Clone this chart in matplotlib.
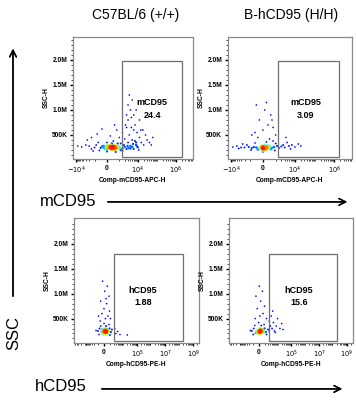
import numpy as np
import matplotlib
matplotlib.use("Agg")
from matplotlib import pyplot as plt
from matplotlib.patches import Rectangle

plt.rcParams['font.family'] = ['Liberation Sans', 'DejaVu Sans']

# column titles
titles = ["C57BL/6 (+/+)", "B-hCD95 (H/H)"]

# gate labels and percentages
gate_names = ["mCD95", "mCD95", "hCD95", "hCD95"]
gate_values = ["24.4", "3.09", "1.88", "15.6"]
x_labels = ["Comp-mCD95-APC-H", "Comp-mCD95-APC-H", "Comp-hCD95-PE-H", "Comp-hCD95-PE-H"]

# events: (fluorescence, SSC in K)
tl_events = [
    (0, 250), (200, 240), (400, 260), (-200, 250), (600, 250), (100, 270), (300, 230), (-100, 230),
    (500, 280), (800, 240), (0, 210), (200, 290), (-300, 270), (700, 270), (400, 220), (100, 250),
    (300, 250), (-400, 240), (900, 260), (600, 220), (0, 280), (200, 260), (500, 240), (-200, 280),
    (1000, 250), (-1000, 250), (-800, 300), (-1500, 220), (1500, 230), (1800, 300), (1200, 330),
    (-600, 350), (0, 350), (400, 380), (800, 330), (-1200, 180), (1500, 180), (0, 170), (600, 160),
    (-500, 190), (2000, 260), (2500, 220), (-2000, 280), (1200, 200), (300, 330), (-3000, 300),
    (-5000, 260), (-8000, 280), (-2500, 400), (-1500, 450), (-700, 520), (200, 480), (700, 600),
    (1000, 450), (500, 700), (-300, 620), (1500, 550), (2000, 420), (2500, 650), (3000, 350),
    (3500, 500), (4000, 280), (5000, 400), (6000, 600), (8000, 350), (3000, 800), (4000, 1000),
    (5000, 1200), (3500, 1300), (2500, 900), (4000, 230), (5000, 260), (6000, 220), (8000, 300),
    (10000, 250), (12000, 450), (15000, 350), (20000, 300), (25000, 500), (30000, 400), (7000, 700),
    (9000, 550), (12000, 800), (6000, 900), (18000, 600), (4500, 650), (2800, 280), (3200, 240),
    (5500, 320), (7000, 380), (9000, 270), (11000, 200), (14000, 600), (40000, 350), (50000, 300),
    (60000, 450), (3000, 1100), (4500, 850), (8000, 1000), (2200, 700),
]
tr_events = [
    (0, 240), (200, 250), (-200, 230), (400, 260), (-400, 250), (100, 220), (300, 280), (-100, 270),
    (600, 240), (-600, 260), (0, 260), (200, 230), (500, 220), (-300, 210), (100, 290), (800, 260),
    (-800, 240), (300, 250), (0, 200), (-100, 250), (-1200, 260), (-1500, 300), (1200, 280),
    (1500, 240), (1000, 330), (-500, 340), (200, 360), (700, 380), (-900, 200), (900, 190), (0, 170),
    (-2000, 250), (2000, 270), (400, 420), (-300, 450), (-500, 550), (0, 600), (300, 700),
    (-200, 800), (500, 900), (100, 1000), (-400, 1100), (700, 650), (1000, 500), (-800, 500),
    (200, 1150), (600, 800), (-3000, 250), (-5000, 280), (-8000, 260), (-2500, 320), (-4000, 230),
    (2500, 300), (3000, 250), (4000, 350), (5000, 280), (7000, 300), (10000, 260), (15000, 320),
    (20000, 280), (3500, 450), (6000, 220),
]
bl_events = [
    (0, 230), (200, 240), (400, 220), (-200, 250), (300, 260), (100, 210), (500, 250), (0, 270),
    (200, 200), (-100, 220), (400, 280), (600, 230), (100, 250), (300, 240), (-300, 230), (700, 260),
    (200, 290), (0, 190), (500, 200), (-200, 280), (-700, 300), (-1000, 250), (900, 300), (1200, 230),
    (-500, 350), (300, 350), (800, 380), (0, 400), (-800, 180), (1000, 170), (1500, 280),
    (-1500, 260), (-600, 450), (200, 500), (600, 550), (-300, 600), (900, 650), (0, 700), (400, 800),
    (-500, 850), (800, 950), (100, 1050), (500, 1150), (-200, 1250), (300, 900), (1100, 500),
    (-900, 550), (3000, 200), (4000, 240), (6000, 180), (2500, 300), (20000, 170),
]
br_events = [
    (0, 230), (200, 240), (400, 220), (-200, 250), (300, 260), (100, 210), (500, 250), (0, 270),
    (200, 200), (-100, 220), (400, 280), (600, 230), (-300, 230), (700, 260), (200, 290), (-400, 210),
    (800, 240), (-800, 300), (-1200, 250), (1000, 300), (1300, 230), (-600, 360), (400, 360),
    (900, 380), (0, 420), (-900, 180), (1500, 180), (2000, 280), (-1600, 260), (-500, 500),
    (200, 550), (700, 600), (-200, 700), (1000, 750), (300, 850), (-400, 950), (600, 1050),
    (100, 1150), (1500, 500), (2500, 250), (3000, 350), (4000, 300), (5000, 420), (6000, 250),
    (8000, 350), (10000, 500), (15000, 300), (20000, 400), (3500, 550), (2500, 450), (7000, 220),
    (25000, 280), (4500, 650),
]

# gate bounds: (x_low, x_high, ssc_low K, ssc_high K)
gates = [(1400, 2.0e6, 50, 1980), (1300, 1.7e6, 50, 1980),
         (2200, 1.9e8, 50, 1800), (2200, 1.9e8, 50, 1800)]

fig = plt.figure(figsize=(3.56, 4.03), dpi=100)

boxes = [[0.205, 0.6055, 0.337, 0.3027], [0.640, 0.6055, 0.348, 0.3027],
         [0.208, 0.149, 0.351, 0.310], [0.643, 0.149, 0.348, 0.310]]
label_x = [0.66, 0.63, 0.55, 0.565]

for i, events in enumerate([tl_events, tr_events, bl_events, br_events]):
    ax = fig.add_axes(boxes[i])
    top = i < 2
    c = 472.0 if top else 877.0
    ax.set_xscale('function', functions=(lambda v, c=c: np.arcsinh(v / c),
                                         lambda v, c=c: c * np.sinh(v)))
    if top:
        ax.set_xlim(-1.43e4, 7.7e6)
        ax.set_ylim(20e3, 2.46e6)
        ax.set_xticks([-1e4, 0, 1e4, 1e6], [r'$-10^4$', '0', r'$10^4$', r'$10^6$'])
        minor = ([-k * 1e3 for k in range(1, 10)] + [k * 1e3 for k in range(1, 10)]
                 + [k * 1e4 for k in range(2, 10)] + [k * 1e5 for k in range(1, 10)]
                 + [k * 1e6 for k in range(2, 8)])
    else:
        ax.set_xlim(-6e4, 2.6e9)
        ax.set_ylim(10e3, 2.52e6)
        ax.set_xticks([0, 1e5, 1e7, 1e9], ['0', r'$10^5$', r'$10^7$', r'$10^9$'])
        minor = ([-k * 1e3 for k in range(1, 10)] + [-k * 1e4 for k in range(1, 6)]
                 + [k * 1e3 for k in range(1, 10)] + [k * 1e4 for k in range(1, 10)]
                 + [k * 10 ** e for e in range(5, 9) for k in range(2, 10)]
                 + [2e9])
    ax.set_xticks(minor, minor=True)
    ax.set_yticks([5e5, 1e6, 1.5e6, 2e6], ['500K', '1.0M', '1.5M', '2.0M'])
    ax.set_yticks(np.arange(1e5, 2.5e6, 1e5), minor=True)

    xs = np.array([e[0] for e in events], dtype=float)
    ys = np.array([e[1] for e in events], dtype=float) * 1000

    # colour each event by how crowded its neighbourhood is on screen
    pts = ax.transData.transform(np.column_stack([xs, ys]))
    d = np.hypot(pts[:, None, 0] - pts[None, :, 0], pts[:, None, 1] - pts[None, :, 1])
    dens = np.exp(-(d / 3.5) ** 2).sum(axis=1)
    dens = (dens - dens.min()) / (dens.max() - dens.min())
    order = np.argsort(dens)
    dn = dens[order]
    cols = plt.cm.jet(0.13 + 0.75 * dn ** 2.5)
    ax.scatter(xs[order], ys[order], s=1.4 + 10 * dn ** 2, c=cols,
               linewidths=0, zorder=2)

    gx0, gx1, gy0, gy1 = gates[i]
    ax.add_patch(Rectangle((gx0, gy0 * 1000), gx1 - gx0, (gy1 - gy0) * 1000,
                           fill=False, edgecolor='#6e6e6e', linewidth=0.9, zorder=3))
    ax.text(label_x[i], 0.46 if top else 0.42, gate_names[i], transform=ax.transAxes,
            ha='center', va='center', fontsize=6.5, fontweight='bold')
    ax.text(label_x[i], 0.36 if top else 0.32, gate_values[i], transform=ax.transAxes,
            ha='center', va='center', fontsize=6.5, fontweight='bold')

    for s in ax.spines.values():
        s.set_color('#8a8a8a')
        s.set_linewidth(0.9)
    ax.tick_params(which='major', length=2.5, width=1, color='black', labelsize=4.8, pad=1.5)
    ax.tick_params(which='minor', length=1.3, width=0.5, color='black')
    for lab in ax.get_xticklabels() + ax.get_yticklabels():
        lab.set_fontweight('bold')
    ax.set_xlabel(x_labels[i], fontsize=4.8, fontweight='bold', labelpad=0.5)
    ax.set_ylabel('SSC-H', fontsize=4.8, fontweight='bold', labelpad=1)

fig.text(0.382, 0.963, titles[0], ha='center', va='center', fontsize=10)
fig.text(0.818, 0.963, titles[1], ha='center', va='center', fontsize=10)

# marker axis labels and arrows
fig.text(0.112, 0.501, 'mCD95', ha='left', va='center', fontsize=12)
fig.text(0.098, 0.040, 'hCD95', ha='left', va='center', fontsize=12)
fig.text(0.038, 0.174, 'SSC', ha='center', va='center', fontsize=12, rotation=90)
arrow = dict(arrowstyle='->', lw=1.0, color='black', mutation_scale=12)
fig.add_artist(plt.annotate('', xy=(0.983, 0.499), xytext=(0.295, 0.499),
                            xycoords='figure fraction', arrowprops=arrow))
fig.add_artist(plt.annotate('', xy=(0.969, 0.035), xytext=(0.278, 0.035),
                            xycoords='figure fraction', arrowprops=arrow))
fig.add_artist(plt.annotate('', xy=(0.0365, 0.886), xytext=(0.0365, 0.258),
                            xycoords='figure fraction', arrowprops=arrow))

fig.savefig('out.png', dpi=100)
plt.close(fig)
